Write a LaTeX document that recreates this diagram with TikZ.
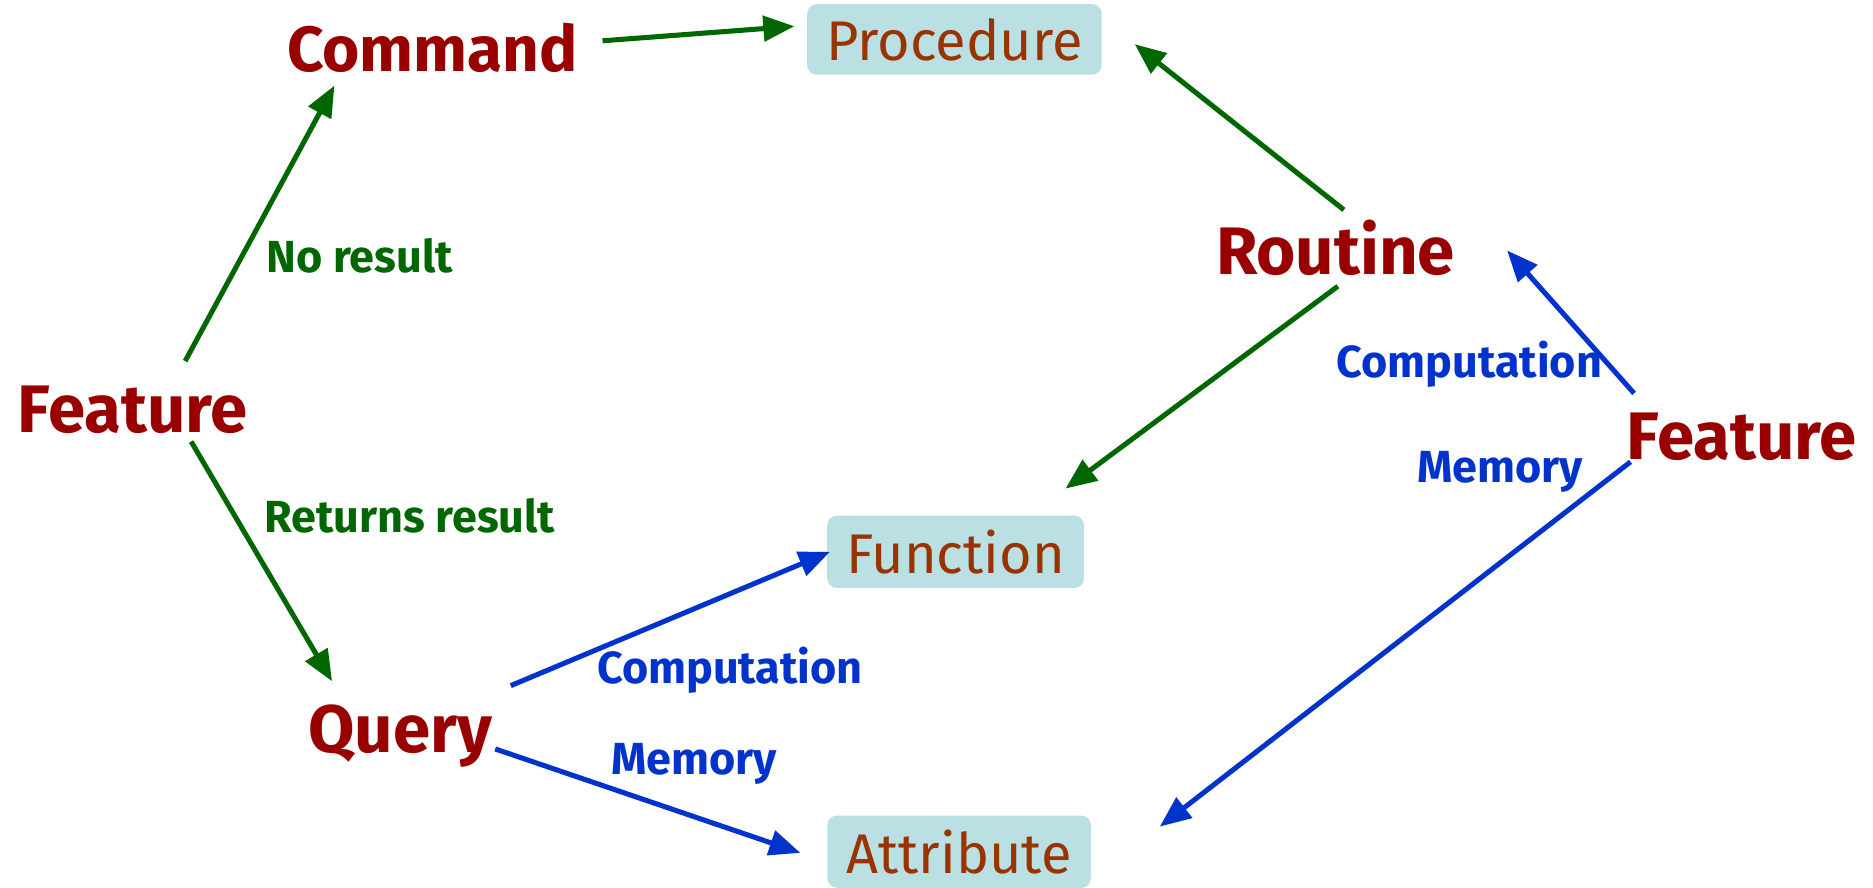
\documentclass[tikz,border=0pt]{standalone}
\usepackage{fontspec}
\setmainfont{Fira Sans}
\usepackage{tikz}
\usetikzlibrary{arrows.meta,calc,positioning}
\definecolor{wordred}{rgb}{0.6, 0.0, 0.0}
\definecolor{boxtext}{rgb}{0.6, 0.2, 0.0}
\definecolor{boxfill}{rgb}{0.73, 0.88, 0.89}
\definecolor{green}{rgb}{0.0, 0.4, 0.0}
\definecolor{blue}{rgb}{0.0, 0.2, 0.8}

\begin{document}
\begin{tikzpicture}[x=0.01cm,y=-0.01cm,
    word/.style={text=wordred,font=\fontsize{16}{18}\selectfont\bfseries,inner sep=0pt,anchor=base},
    kind/.style={fill=boxfill,rounded corners=0.08cm,text=boxtext,font=\fontsize{13.3}{15}\selectfont,inner xsep=0.16cm,minimum height=0.58cm},
    glabel/.style={text=green,font=\fontsize{10.7}{13}\selectfont\bfseries,inner sep=0pt,anchor=base},
    blabel/.style={glabel,text=blue},
    garrow/.style={draw=green,line width=1.2pt,-{Triangle[length=0.26cm,width=0.21cm]}},
    barrow/.style={garrow,draw=blue}]
    \useasboundingbox (0,0) rectangle (1568,743);
    \node[word,font=\fontsize{15.2}{18}\selectfont\bfseries] (cmd) at (362,60) {Command};
    \node[word] (featL) at (111,362) {Feature};
    \node[word] (query) at (335,630) {Query};
    \node[word] (routine) at (1118,230) {Routine};
    \node[word] (featR) at (1458,385) {Feature};
    \node[kind] (proc) at (799,33) {Procedure};
    \node[kind] (func) at (800,462) {Function};
    \node[kind] (attr) at (803,713) {Attribute};
    \node[glabel] (nores) at (301,228) {No result};
    \node[glabel] (retres) at (343,446) {Returns result};
    \node[blabel] (compL) at (611,572) {Computation};
    \node[blabel] (memL) at (581,648) {Memory};
    \node[blabel] (compR) at (1230,316) {Computation};
    \node[blabel] (memR) at (1256,404) {Memory};
    \draw[garrow] ($(featL.north)+(44,-20)$) -- ($(cmd.south)+(-82,10)$);
    \draw[garrow] ($(featL.south)+(49,6)$) -- ($(query.north)+(-57,-19)$);
    \draw[garrow] ($(cmd.east)+(20,-6)$) -- ($(proc.west)+(-10,-11)$);
    \draw[garrow] ($(routine.north)+(7,-8)$) -- ($(proc.east)+(27,4)$);
    \draw[garrow] ($(routine.south)+(2,8)$) -- ($(func.north)+(92,-22)$);
    \draw[barrow] ($(query.base east)+(15,-56)$) -- ($(func.west)+(3,0)$);
    \draw[barrow] ($(query.base east)+(2,-3)$) -- ($(attr.west)+(-22,1)$);
    \draw[barrow] ($(featR.north)+(-90,-16)$) -- ($(routine.east)+(43,2)$);
    \draw[barrow] ($(featR.south)+(-93,0)$) -- ($(attr.east)+(57,-21)$);
\end{tikzpicture}
\end{document}
